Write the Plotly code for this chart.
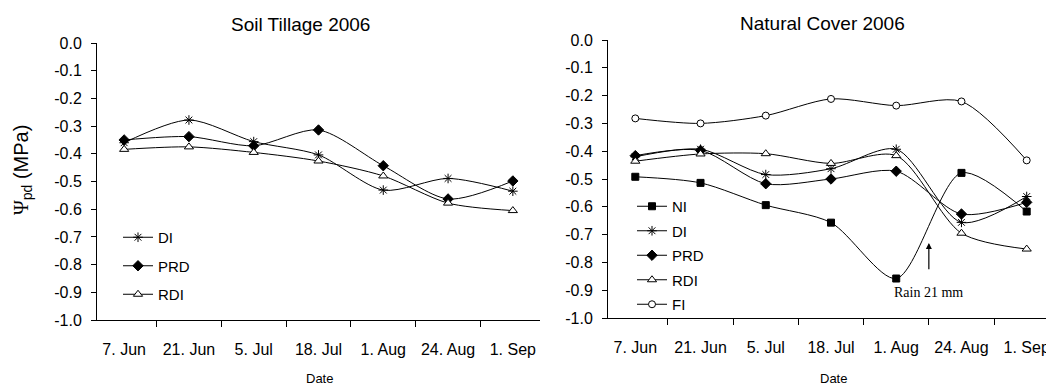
import plotly.graph_objects as go

dates = ["7. Jun", "21. Jun", "5. Jul", "18. Jul", "1. Aug", "24. Aug", "1. Sep"]

# Soil Tillage 2006
st_DI = [-0.36, -0.278, -0.356, -0.404, -0.531, -0.489, -0.535]
st_PRD = [-0.35, -0.338, -0.371, -0.314, -0.443, -0.563, -0.498]
st_RDI = [-0.384, -0.375, -0.395, -0.426, -0.48, -0.578, -0.605]

# Natural Cover 2006
nc_NI = [-0.492, -0.514, -0.594, -0.657, -0.858, -0.478, -0.617]
nc_DI = [-0.42, -0.393, -0.484, -0.463, -0.393, -0.656, -0.563]
nc_PRD = [-0.416, -0.397, -0.517, -0.5, -0.472, -0.626, -0.584]
nc_RDI = [-0.436, -0.41, -0.409, -0.444, -0.416, -0.695, -0.752]
nc_FI = [-0.282, -0.3, -0.272, -0.212, -0.236, -0.221, -0.433]

yticks = [0.0, -0.1, -0.2, -0.3, -0.4, -0.5, -0.6, -0.7, -0.8, -0.9, -1.0]
ytick_text = ["%.1f" % v for v in yticks]

FONT = "Liberation Sans, Arial, sans-serif"
SERIF = "Liberation Serif, Times New Roman, serif"
# page body has an 8px margin: figure is drawn at (8, 8)
OFF = 8
W, H = 1054 - OFF, 388 - OFF

styles = {
    "NI": dict(symbol="square", size=7, color="black", line=dict(color="black", width=1)),
    "DI": dict(symbol="asterisk-open", size=8, color="black", line=dict(color="black", width=1)),
    "PRD": dict(symbol="diamond", size=8, color="black", line=dict(color="black", width=1)),
    "RDI": dict(symbol="triangle-up", size=8, color="white", line=dict(color="black", width=1)),
    "FI": dict(symbol="circle", size=7, color="white", line=dict(color="black", width=1)),
}

fig = go.Figure()

def add(name, y, xa, ya, leg):
    fig.add_trace(go.Scatter(
        x=dates, y=y, name=name, mode="lines+markers",
        line=dict(color="black", width=1, shape="spline", smoothing=0.8),
        marker=styles[name], xaxis=xa, yaxis=ya, legend=leg,
        legendgroup=leg + name,
    ))

add("DI", st_DI, "x", "y", "legend")
add("PRD", st_PRD, "x", "y", "legend")
add("RDI", st_RDI, "x", "y", "legend")
add("NI", nc_NI, "x2", "y2", "legend2")
add("DI", nc_DI, "x2", "y2", "legend2")
add("PRD", nc_PRD, "x2", "y2", "legend2")
add("RDI", nc_RDI, "x2", "y2", "legend2")
add("FI", nc_FI, "x2", "y2", "legend2")

def px_x(p):
    return (p - OFF) / W

def px_y(p):
    return 1 - (p - OFF) / H

xcommon = dict(
    type="category", categoryorder="array", categoryarray=dates,
    showline=True, linecolor="black", linewidth=1, mirror=False,
    ticks="outside", ticklen=6, tickcolor="black", tickson="boundaries",
    showgrid=False, zeroline=False, tickfont=dict(family=FONT, size=16, color="black"),
    ticklabelstandoff=15, automargin=False, fixedrange=True,
)
ycommon = dict(
    range=[-1.0, 0.0], tickvals=yticks, ticktext=ytick_text,
    showline=True, linecolor="black", linewidth=1,
    ticks="outside", ticklen=5, tickcolor="black",
    showgrid=False, zeroline=False, tickfont=dict(family=FONT, size=16, color="black"),
    ticklabelstandoff=6, automargin=False, fixedrange=True,
)

fig.update_layout(
    width=W, height=H,
    margin=dict(l=0, r=0, t=0, b=0),
    paper_bgcolor="white", plot_bgcolor="white",
    font=dict(family=FONT, size=15, color="black"),
    xaxis=dict(domain=[px_x(97), px_x(540)], anchor="y", **xcommon),
    yaxis=dict(domain=[px_y(320), px_y(43)], anchor="x", **ycommon),
    xaxis2=dict(domain=[px_x(608), px_x(1054)], anchor="y2", **xcommon),
    yaxis2=dict(domain=[px_y(318), px_y(40)], anchor="x2", **ycommon),
    legend=dict(x=px_x(118), y=px_y(221), xanchor="left", yanchor="top",
                bgcolor="rgba(0,0,0,0)", borderwidth=0, tracegroupgap=6,
                itemwidth=30, font=dict(family=FONT, size=15, color="black")),
    legend2=dict(x=px_x(632), y=px_y(190), xanchor="left", yanchor="top",
                 bgcolor="rgba(0,0,0,0)", borderwidth=0, tracegroupgap=2,
                 itemwidth=30, font=dict(family=FONT, size=15, color="black")),
    showlegend=True,
)

ann = [
    dict(text="Soil Tillage 2006", x=px_x(300), y=px_y(24), size=19),
    dict(text="Natural Cover 2006", x=px_x(822), y=px_y(23), size=19),
    dict(text="Date", x=px_x(319), y=px_y(378), size=13),
    dict(text="Date", x=px_x(833), y=px_y(378), size=13),
]
for a in ann:
    size = a.pop("size")
    fig.add_annotation(xref="paper", yref="paper", showarrow=False,
                       font=dict(family=FONT, size=size, color="black"),
                       xanchor="center", yanchor="middle", **a)

fig.add_annotation(
    xref="paper", yref="paper", x=px_x(22), y=px_y(170), showarrow=False,
    textangle=-90, xanchor="center", yanchor="middle",
    text="<span style='font-family:Liberation Serif'>Ψ</span><sub>pd</sub> (MPa)",
    font=dict(family=FONT, size=20, color="black"),
)

# Rain arrow and label (between 1. Aug and 24. Aug categories)
fig.add_annotation(
    xref="x2", yref="y2", x=4.5, y=-0.73, ax=4.5, ay=-0.83,
    axref="x2", ayref="y2", showarrow=True, arrowhead=2, arrowsize=1,
    arrowwidth=1.2, arrowcolor="black", text="",
)
fig.add_annotation(
    xref="x2", yref="y2", x=4.5, y=-0.91, showarrow=False,
    text="Rain 21 mm", xanchor="center", yanchor="middle",
    font=dict(family=SERIF, size=14, color="black"),
)

fig.write_html("out.html")
